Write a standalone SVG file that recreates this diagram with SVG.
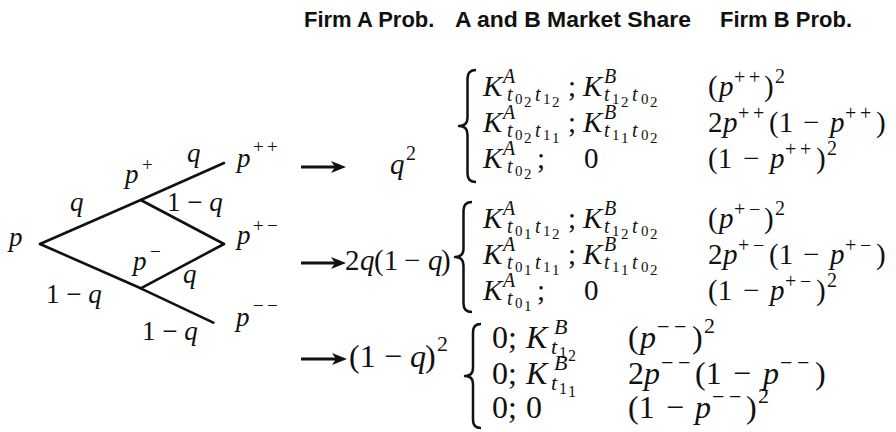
<svg xmlns="http://www.w3.org/2000/svg" width="896" height="432" viewBox="0 0 896 432">
<style>
.h{font-family:"Liberation Sans",Arial,sans-serif;font-weight:bold;font-size:22px;fill:#111}
.m{font-family:"Liberation Serif","Times New Roman",serif;font-size:29px;fill:#111}
.t{font-family:"Liberation Serif","Times New Roman",serif;font-size:27px;fill:#111}
.g3{font-size:32px}
.i{font-style:italic}
.s{font-size:20px}
.ss{font-size:15px}
.ts{font-size:19px}
.s3{font-size:22px}
.ss3{font-size:16px}
.edge{stroke:#111;stroke-width:2.6;fill:none;stroke-linecap:round;stroke-linejoin:round}
.arr{stroke:#111;stroke-width:3.2;fill:none}
.brace{stroke:#111;stroke-width:2.5;fill:none;stroke-linejoin:round}
</style>
<defs>
<marker id="ah" markerWidth="15" markerHeight="14" refX="7" refY="7" orient="auto" markerUnits="userSpaceOnUse">
<path d="M0,1 L15,7 L0,13 L4,7 Z" fill="#111"/>
</marker>
</defs>
<rect width="896" height="432" fill="#fff"/>

<g id="header">
<text class="h" x="304" y="27">Firm A Prob.</text>
<text class="h" x="455" y="27" textLength="236" lengthAdjust="spacingAndGlyphs">A and B Market Share</text>
<text class="h" x="720" y="27">Firm B Prob.</text>
</g>

<g id="connectors">
<polyline class="edge" points="40,244 140.7,200 224,163"/>
<polyline class="edge" points="140.7,200 224,244"/>
<polyline class="edge" points="40,244 140.7,288.3 213.3,322.7"/>
<polyline class="edge" points="140.7,288.3 224,244"/>
<line class="arr" x1="301" y1="167" x2="338" y2="167" marker-end="url(#ah)"/>
<line class="arr" x1="301" y1="263" x2="338" y2="263" marker-end="url(#ah)"/>
<line class="arr" x1="301" y1="359" x2="339" y2="359" marker-end="url(#ah)"/>
</g>

<g id="tree-labels">
<text class="t i" x="9" y="246">p</text>
<text class="t i" x="70" y="211">q</text>
<text class="t"><tspan class="i" x="125" y="183">p</tspan><tspan class="ts" x="142" y="171">+</tspan></text>
<text class="t i" x="187" y="162">q</text>
<text class="t"><tspan class="i" x="237" y="167">p</tspan><tspan class="ts" x="253" y="153">+</tspan><tspan class="ts" x="267" y="153">+</tspan></text>
<text class="t"><tspan x="167" y="211">1 − </tspan><tspan class="i">q</tspan></text>
<text class="t"><tspan class="i" x="237" y="244">p</tspan><tspan class="ts" x="253" y="232">+</tspan><tspan class="ts" x="267" y="232">−</tspan></text>
<text class="t"><tspan class="i" x="133" y="270">p</tspan><tspan class="ts" x="150" y="258">−</tspan></text>
<text class="t i" x="183" y="283">q</text>
<text class="t"><tspan x="46" y="303">1 − </tspan><tspan class="i">q</tspan></text>
<text class="t"><tspan x="142" y="340">1 − </tspan><tspan class="i">q</tspan></text>
<text class="t"><tspan class="i" x="236" y="326">p</tspan><tspan class="ts" x="253" y="312">−</tspan><tspan class="ts" x="267" y="312">−</tspan></text>
</g>

<g id="group1">
<text class="m"><tspan class="i" x="390" y="174">q</tspan><tspan class="s" x="406" y="160">2</tspan></text>
<path class="brace" d="M476,70 Q467.5,70 467.5,78.5 L467.5,117.5 Q467.5,126 459,126 Q467.5,126 467.5,134.5 L467.5,173.5 Q467.5,182 476,182"/>
<text class="m"><tspan class="i" x="483" y="96">K</tspan><tspan class="i s" x="503" y="83">A</tspan><tspan class="i s" x="507" y="101">t</tspan><tspan class="ss" x="515" y="104">0</tspan><tspan class="ss" x="524" y="107">2</tspan><tspan class="i s" x="535" y="101">t</tspan><tspan class="ss" x="543" y="104">1</tspan><tspan class="ss" x="552" y="107">2</tspan><tspan x="568" y="96">;</tspan><tspan class="i" x="583" y="96">K</tspan><tspan class="i s" x="604" y="83">B</tspan><tspan class="i s" x="604" y="101">t</tspan><tspan class="ss" x="612" y="104">1</tspan><tspan class="ss" x="621" y="107">2</tspan><tspan class="i s" x="632" y="101">t</tspan><tspan class="ss" x="641" y="104">0</tspan><tspan class="ss" x="650" y="107">2</tspan></text>
<text class="m"><tspan class="i" x="483" y="132">K</tspan><tspan class="i s" x="503" y="119">A</tspan><tspan class="i s" x="507" y="137">t</tspan><tspan class="ss" x="515" y="140">0</tspan><tspan class="ss" x="524" y="143">2</tspan><tspan class="i s" x="535" y="137">t</tspan><tspan class="ss" x="543" y="140">1</tspan><tspan class="ss" x="552" y="143">1</tspan><tspan x="568" y="132">;</tspan><tspan class="i" x="583" y="132">K</tspan><tspan class="i s" x="604" y="119">B</tspan><tspan class="i s" x="604" y="137">t</tspan><tspan class="ss" x="612" y="140">1</tspan><tspan class="ss" x="621" y="143">1</tspan><tspan class="i s" x="632" y="137">t</tspan><tspan class="ss" x="641" y="140">0</tspan><tspan class="ss" x="650" y="143">2</tspan></text>
<text class="m"><tspan class="i" x="483" y="168">K</tspan><tspan class="i s" x="503" y="155">A</tspan><tspan class="i s" x="507" y="173">t</tspan><tspan class="ss" x="515" y="176">0</tspan><tspan class="ss" x="524" y="179">2</tspan><tspan x="537" y="168">;</tspan><tspan x="584" y="168">0</tspan></text>
<text class="m"><tspan x="708" y="96">(</tspan><tspan class="i" x="719" y="96">p</tspan><tspan class="s" x="734" y="84">+</tspan><tspan class="s" x="749" y="84">+</tspan><tspan x="764" y="96">)</tspan><tspan class="s" x="775" y="83">2</tspan></text>
<text class="m"><tspan x="708" y="132">2</tspan><tspan class="i" x="723" y="132">p</tspan><tspan class="s" x="738" y="120">+</tspan><tspan class="s" x="753" y="120">+</tspan><tspan x="769" y="132">(1</tspan><tspan x="803" y="132">−</tspan><tspan class="i" x="830" y="132">p</tspan><tspan class="s" x="845" y="120">+</tspan><tspan class="s" x="860" y="120">+</tspan><tspan x="876" y="132">)</tspan></text>
<text class="m"><tspan x="708" y="168">(1</tspan><tspan x="743" y="168">−</tspan><tspan class="i" x="770" y="168">p</tspan><tspan class="s" x="785" y="156">+</tspan><tspan class="s" x="800" y="156">+</tspan><tspan x="816" y="168">)</tspan><tspan class="s" x="827" y="155">2</tspan></text>
</g>

<g id="group2">
<text class="m"><tspan x="345" y="270">2</tspan><tspan class="i" x="360" y="270">q</tspan><tspan x="374" y="270">(1</tspan><tspan x="404" y="270">−</tspan><tspan class="i" x="428" y="270">q</tspan><tspan x="441" y="270">)</tspan></text>
<path class="brace" d="M472,202 Q463.5,202 463.5,210.5 L463.5,248.5 Q463.5,257 455,257 Q463.5,257 463.5,265.5 L463.5,303.5 Q463.5,312 472,312"/>
<text class="m"><tspan class="i" x="483" y="228">K</tspan><tspan class="i s" x="503" y="215">A</tspan><tspan class="i s" x="507" y="233">t</tspan><tspan class="ss" x="515" y="236">0</tspan><tspan class="ss" x="524" y="239">1</tspan><tspan class="i s" x="535" y="233">t</tspan><tspan class="ss" x="543" y="236">1</tspan><tspan class="ss" x="552" y="239">2</tspan><tspan x="568" y="228">;</tspan><tspan class="i" x="583" y="228">K</tspan><tspan class="i s" x="604" y="215">B</tspan><tspan class="i s" x="604" y="233">t</tspan><tspan class="ss" x="612" y="236">1</tspan><tspan class="ss" x="621" y="239">2</tspan><tspan class="i s" x="632" y="233">t</tspan><tspan class="ss" x="641" y="236">0</tspan><tspan class="ss" x="650" y="239">2</tspan></text>
<text class="m"><tspan class="i" x="483" y="264">K</tspan><tspan class="i s" x="503" y="251">A</tspan><tspan class="i s" x="507" y="269">t</tspan><tspan class="ss" x="515" y="272">0</tspan><tspan class="ss" x="524" y="275">1</tspan><tspan class="i s" x="535" y="269">t</tspan><tspan class="ss" x="543" y="272">1</tspan><tspan class="ss" x="552" y="275">1</tspan><tspan x="568" y="264">;</tspan><tspan class="i" x="583" y="264">K</tspan><tspan class="i s" x="604" y="251">B</tspan><tspan class="i s" x="604" y="269">t</tspan><tspan class="ss" x="612" y="272">1</tspan><tspan class="ss" x="621" y="275">1</tspan><tspan class="i s" x="632" y="269">t</tspan><tspan class="ss" x="641" y="272">0</tspan><tspan class="ss" x="650" y="275">2</tspan></text>
<text class="m"><tspan class="i" x="483" y="300">K</tspan><tspan class="i s" x="503" y="287">A</tspan><tspan class="i s" x="507" y="305">t</tspan><tspan class="ss" x="515" y="308">0</tspan><tspan class="ss" x="524" y="311">1</tspan><tspan x="537" y="300">;</tspan><tspan x="584" y="300">0</tspan></text>
<text class="m"><tspan x="708" y="228">(</tspan><tspan class="i" x="719" y="228">p</tspan><tspan class="s" x="734" y="216">+</tspan><tspan class="s" x="749" y="216">−</tspan><tspan x="764" y="228">)</tspan><tspan class="s" x="775" y="215">2</tspan></text>
<text class="m"><tspan x="708" y="264">2</tspan><tspan class="i" x="723" y="264">p</tspan><tspan class="s" x="738" y="252">+</tspan><tspan class="s" x="753" y="252">−</tspan><tspan x="769" y="264">(1</tspan><tspan x="803" y="264">−</tspan><tspan class="i" x="830" y="264">p</tspan><tspan class="s" x="845" y="252">+</tspan><tspan class="s" x="860" y="252">−</tspan><tspan x="876" y="264">)</tspan></text>
<text class="m"><tspan x="708" y="300">(1</tspan><tspan x="743" y="300">−</tspan><tspan class="i" x="770" y="300">p</tspan><tspan class="s" x="785" y="288">+</tspan><tspan class="s" x="800" y="288">−</tspan><tspan x="816" y="300">)</tspan><tspan class="s" x="827" y="287">2</tspan></text>
</g>

<g id="group3">
<text class="m g3"><tspan x="349" y="367">(1</tspan><tspan x="384" y="367">−</tspan><tspan class="i" x="410" y="367">q</tspan><tspan x="425" y="367">)</tspan><tspan class="s3" x="437" y="351">2</tspan></text>
<path class="brace" d="M481,324 Q473,324 473,332 L473,368 Q473,376 465,376 Q473,376 473,384 L473,420 Q473,428 481,428"/>
<text class="m g3"><tspan x="492" y="348">0;</tspan><tspan class="i" x="526" y="348">K</tspan><tspan class="i s3" x="554" y="334">B</tspan><tspan class="i s3" x="551" y="354">t</tspan><tspan class="ss3" x="559" y="358">1</tspan><tspan class="ss3" x="568" y="361">2</tspan></text>
<text class="m g3"><tspan x="492" y="384">0;</tspan><tspan class="i" x="526" y="384">K</tspan><tspan class="i s3" x="554" y="370">B</tspan><tspan class="i s3" x="551" y="390">t</tspan><tspan class="ss3" x="559" y="394">1</tspan><tspan class="ss3" x="568" y="397">1</tspan></text>
<text class="m g3"><tspan x="492" y="418">0;</tspan><tspan x="526" y="418">0</tspan></text>
<text class="m g3"><tspan x="628" y="348">(</tspan><tspan class="i" x="640" y="348">p</tspan><tspan class="s3" x="657" y="334">−</tspan><tspan class="s3" x="674" y="334">−</tspan><tspan x="692" y="348">)</tspan><tspan class="s3" x="704" y="333">2</tspan></text>
<text class="m g3"><tspan x="628" y="384">2</tspan><tspan class="i" x="644" y="384">p</tspan><tspan class="s3" x="661" y="370">−</tspan><tspan class="s3" x="678" y="370">−</tspan><tspan x="695" y="384">(1</tspan><tspan x="733" y="384">−</tspan><tspan class="i" x="763" y="384">p</tspan><tspan class="s3" x="780" y="370">−</tspan><tspan class="s3" x="797" y="370">−</tspan><tspan x="815" y="384">)</tspan></text>
<text class="m g3"><tspan x="628" y="418">(1</tspan><tspan x="666" y="418">−</tspan><tspan class="i" x="695" y="418">p</tspan><tspan class="s3" x="712" y="404">−</tspan><tspan class="s3" x="729" y="404">−</tspan><tspan x="746" y="418">)</tspan><tspan class="s3" x="758" y="403">2</tspan></text>
</g>
</svg>
